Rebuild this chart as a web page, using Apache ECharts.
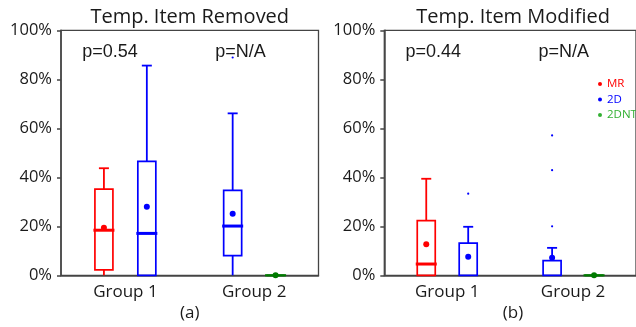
<!DOCTYPE html>
<html>
<head>
<meta charset="utf-8">
<script src="https://cdn.jsdelivr.net/npm/echarts@6/dist/echarts.min.js"></script>
<style>
html, body { margin: 0; padding: 0; background: #fff; }
#chart { width: 636px; height: 327px; }
</style>
</head>
<body>
<div id="chart"></div>
<script>
// 分组与方法
var groups = ['Group 1', 'Group 2'];
var methods = ['MR', '2D', '2DNT'];
var methodColors = ['#ff0000', '#0000ff', '#007a00'];
var legendColors = ['#ff0000', '#0000ff', '#33b033'];
var panelTitles = ['Temp. Item Removed', 'Temp. Item Modified'];
var panelTags = ['(a)', '(b)'];
var pLabels = [['p=0.54', 'p=N/A'], ['p=0.44', 'p=N/A']];

// 每行: [组, 最小, Q1, 中位数, Q3, 最大, 均值]  (%)
var removedMR = [[0, 0, 2.2, 18.4, 35.2, 43.7, 19.4]];
var removed2D = [[0, 0, 0, 17.1, 46.5, 85.6, 28.0], [1, 0, 8.0, 20.1, 34.7, 66.1, 25.1]];
var removed2DNT = [[1, 0, 0, 0, 0, 0, 0]];
var removed2DOutliers = [[1, 88.9]];

var modifiedMR = [[0, 0, 0, 4.6, 22.3, 39.4, 12.7]];
var modified2D = [[0, 0, 0, 0, 13.1, 19.8, 7.6], [1, 0, 0, 0, 6.0, 11.2, 7.2]];
var modified2DNT = [[1, 0, 0, 0, 0, 0, 0]];
var modified2DOutliers = [[0, 33.3], [1, 57.1], [1, 42.9], [1, 20.0]];

var panels = [
	{ boxes: [removedMR, removed2D, removed2DNT], outliers: removed2DOutliers },
	{ boxes: [modifiedMR, modified2D, modified2DNT], outliers: modified2DOutliers }
];

var gridLeft = [61, 384.3];
var gridTop = 30.3, gridW = 257.5, gridH = 245;
var axisColor = '#444';
var textColor = '#1a1a1a';

// 每组两个箱子: 组1 为 MR / 2D, 组2 为 2D / 2DNT
function sideOf(m, g) {
	if (m === 0) return -1;
	if (m === 2) return 1;
	return g === 0 ? 1 : -1;
}

function boxRenderer(m) {
	var color = methodColors[m];
	return function (params, api) {
		var g = api.value(0);
		var band = api.size([1, 0])[0];
		var cx = api.coord([g, 0])[0] + sideOf(m, g) * band / 6;
		function y(i) { return api.coord([g, api.value(i)])[1]; }
		var yMin = y(1), yQ1 = y(2), yMed = y(3), yQ3 = y(4), yMax = y(5), yMean = y(6);
		var hw = 9, cw = 5;
		var line = { stroke: color, lineWidth: 1.8 };
		var children = [];
		if (api.value(5) > api.value(4)) {
			children.push({ type: 'line', shape: { x1: cx, y1: yMax, x2: cx, y2: yQ3 }, style: line });
			children.push({ type: 'line', shape: { x1: cx - cw, y1: yMax, x2: cx + cw, y2: yMax }, style: line });
		}
		if (api.value(2) > api.value(1)) {
			children.push({ type: 'line', shape: { x1: cx, y1: yQ1, x2: cx, y2: yMin }, style: line });
		}
		if (api.value(1) > 0) {
			children.push({ type: 'line', shape: { x1: cx - cw, y1: yMin, x2: cx + cw, y2: yMin }, style: line });
		}
		children.push({ type: 'rect', shape: { x: cx - hw, y: yQ3, width: hw * 2, height: yQ1 - yQ3 },
			style: { fill: 'none', stroke: color, lineWidth: 1.7 } });
		if (api.value(3) > api.value(2) || api.value(4) === api.value(2)) {
			children.push({ type: 'line', shape: { x1: cx - hw - 1.5, y1: yMed, x2: cx + hw + 1.5, y2: yMed },
				style: { stroke: color, lineWidth: api.value(4) === api.value(2) ? 2.2 : 3 } });
		}
		children.push({ type: 'circle', shape: { cx: cx, cy: yMean, r: 3 }, style: { fill: color } });
		return { type: 'group', children: children };
	};
}

function outlierRenderer(m) {
	var color = methodColors[m];
	return function (params, api) {
		var g = api.value(0);
		var band = api.size([1, 0])[0];
		var p = api.coord([g, api.value(1)]);
		return { type: 'circle', shape: { cx: p[0] + sideOf(m, g) * band / 6, cy: p[1], r: 1.1 }, style: { fill: color } };
	};
}

var grids = [], xAxes = [], yAxes = [], series = [], graphics = [];
for (var k = 0; k < 2; k++) {
	grids.push({ left: gridLeft[k], top: gridTop, width: gridW, height: gridH,
		show: true, borderColor: axisColor, borderWidth: 1.3, backgroundColor: 'transparent' });
	xAxes.push({
		gridIndex: k, type: 'category', data: groups,
		axisLine: { lineStyle: { color: axisColor, width: 1.5 } },
		axisTick: { alignWithLabel: true, length: 4, lineStyle: { color: axisColor, width: 1.5 } },
		axisLabel: { color: textColor, fontSize: 17, fontFamily: 'Open Sans', margin: 8 },
		splitLine: { show: false }
	});
	yAxes.push({
		gridIndex: k, type: 'value', min: 0, max: 100, interval: 20,
		axisLine: { show: true, lineStyle: { color: axisColor, width: 1.5 } },
		axisTick: { show: true, length: 4, lineStyle: { color: axisColor, width: 1.5 } },
		axisLabel: { color: textColor, fontSize: 16.5, fontFamily: 'Open Sans', margin: 9, formatter: '{value}%' },
		splitLine: { show: false }
	});
	for (var m = 0; m < 3; m++) {
		series.push({
			name: methods[m], type: 'custom', xAxisIndex: k, yAxisIndex: k,
			itemStyle: { color: methodColors[m] },
			encode: { x: 0, y: [1, 2, 3, 4, 5, 6] },
			renderItem: boxRenderer(m), clip: false, z: 5,
			data: panels[k].boxes[m]
		});
	}
	series.push({
		name: methods[1], type: 'custom', xAxisIndex: k, yAxisIndex: k,
		itemStyle: { color: methodColors[1] },
		encode: { x: 0, y: 1 },
		renderItem: outlierRenderer(1), z: 5,
		data: panels[k].outliers
	});
	var cxGrid = gridLeft[k] + gridW / 2;
	graphics.push({ type: 'text', x: cxGrid, y: 17,
		style: { text: panelTitles[k], fill: textColor, font: '20px "Open Sans"', textAlign: 'center', textVerticalAlign: 'middle' } });
	graphics.push({ type: 'text', x: cxGrid, y: 313,
		style: { text: panelTags[k], fill: textColor, font: '17px "Open Sans"', textAlign: 'center', textVerticalAlign: 'middle' } });
	graphics.push({ type: 'text', x: gridLeft[k] + 49, y: 52,
		style: { text: pLabels[k][0], fill: textColor, font: '18px "Liberation Sans"', textAlign: 'center', textVerticalAlign: 'middle' } });
	graphics.push({ type: 'text', x: gridLeft[k] + 179.5, y: 52,
		style: { text: pLabels[k][1], fill: textColor, font: '18px "Liberation Sans"', textAlign: 'center', textVerticalAlign: 'middle' } });
}

var legendData = [];
for (var i = 0; i < methods.length; i++) {
	legendData.push({ name: methods[i], itemStyle: { color: legendColors[i] }, textStyle: { color: legendColors[i] } });
}

var chart = echarts.init(document.getElementById('chart'));
chart.setOption({
	animation: false,
	backgroundColor: '#fff',
	grid: grids,
	xAxis: xAxes,
	yAxis: yAxes,
	legend: {
		data: legendData, orient: 'vertical', left: 593, top: 73,
		icon: 'circle', itemWidth: 4, itemHeight: 4, itemGap: 3.5,
		selectedMode: false,
		textStyle: { fontSize: 11.5, fontFamily: 'Open Sans' }
	},
	graphic: graphics,
	series: series
});
</script>
</body>
</html>
